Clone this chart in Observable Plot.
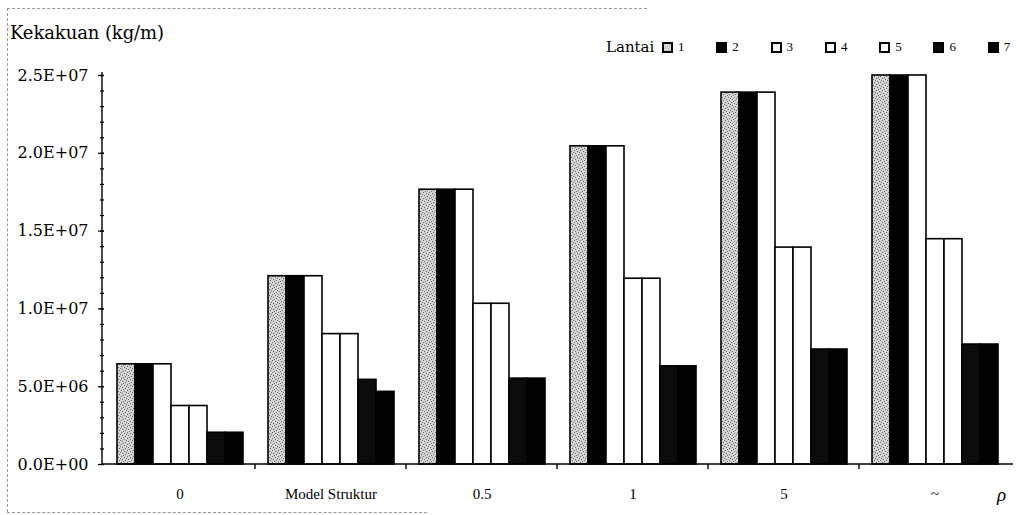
<!DOCTYPE html>
<html>
<head>
<meta charset="utf-8">
<script src="https://cdn.jsdelivr.net/npm/d3@7"></script>
<script src="https://cdn.jsdelivr.net/npm/@observablehq/plot@0.6"></script>
<style>
  html, body { margin: 0; padding: 0; background: #fff; }
  #wrap { position: relative; width: 1017px; height: 515px; overflow: hidden; font-family: "Liberation Serif", "DejaVu Serif", serif; color: #000; }
  #chart { position: absolute; left: 0; top: 0; }
  .ytitle { position: absolute; left: 10px; top: 22px; font-size: 18px; font-family: "DejaVu Serif", serif; letter-spacing: -0.1px; }
  .rho { position: absolute; left: 997px; top: 484px; font-size: 19px; font-style: italic; }
  #legend { position: absolute; left: 606px; top: 38px; display: flex; align-items: center; font-size: 13px; }
  #legend .ttl { font-size: 15px; font-family: "DejaVu Serif", serif; width: 56px; }
  #legend .item { display: flex; align-items: center; width: 54.3px; }
  #legend .sw { width: 7px; height: 7px; border: 2px solid #000; margin-right: 5px; }
  .bl, .bt, .bb { position: absolute; border-color: #999; border-style: dashed; border-width: 0; }
  .bl { left: 7px; top: 8px; height: 504px; border-left-width: 1px; }
  .bt { left: 7px; top: 8px; width: 640px; border-top-width: 1px; }
  .bb { left: 7px; top: 512px; width: 420px; border-top-width: 1px; }
</style>
</head>
<body>
<div id="wrap">
  <div id="chart"></div>
  <div class="bl"></div><div class="bt"></div><div class="bb"></div>
  <div class="ytitle">Kekakuan (kg/m)</div>
  <div id="legend"></div>
  <div class="rho">ρ</div>
</div>
<script>
// ---- data ----
const groups = ["0", "Model Struktur", "0.5", "1", "5", "~"];
const floors = ["1", "2", "3", "4", "5", "6", "7"];
const lantai1 = [6.44e6, 1.21e7, 1.766e7, 2.045e7, 2.39e7, 2.5e7];
const lantai2 = [6.44e6, 1.21e7, 1.766e7, 2.045e7, 2.39e7, 2.5e7];
const lantai3 = [6.44e6, 1.21e7, 1.766e7, 2.045e7, 2.39e7, 2.5e7];
const lantai4 = [3.76e6, 8.38e6, 1.033e7, 1.194e7, 1.394e7, 1.448e7];
const lantai5 = [3.76e6, 8.38e6, 1.033e7, 1.194e7, 1.394e7, 1.448e7];
const lantai6 = [2.04e6, 5.44e6, 5.52e6, 6.31e6, 7.39e6, 7.71e6];
const lantai7 = [2.04e6, 4.67e6, 5.52e6, 6.31e6, 7.39e6, 7.71e6];
const yTicks = [0, 5e6, 1e7, 1.5e7, 2e7, 2.5e7];
const yMinorTicks = d3.range(0, 2.5e7 + 1, 1e6);
const fills = ["url(#stip)", "#000", "#fff", "#fff", "#fff", "#0b0b0b", "#000"];

const series = [lantai1, lantai2, lantai3, lantai4, lantai5, lantai6, lantai7];
const data = [];
groups.forEach((g, i) => floors.forEach((f, j) => data.push({group: g, lantai: f, value: series[j][i]})));

const fmt = d => {
  const [m, e] = d.toExponential(1).split("e");
  return m + "E" + e[0] + e.slice(1).padStart(2, "0");
};

const W = 1017, H = 515, ML = 102, MR = 4, MT = 75, MB = 51;
const padInner = 0.145, padOuter = padInner / 2;
const step = (W - ML - MR) / groups.length;
const dx = -step * padOuter;
const font = '"Liberation Serif", "DejaVu Serif", serif';

const chart = Plot.plot({
  width: W, height: H,
  marginLeft: ML, marginRight: MR, marginTop: MT, marginBottom: MB,
  style: {fontFamily: font, fontSize: "15px", background: "transparent", color: "#000"},
  fx: {domain: groups, paddingInner: padInner, paddingOuter: padOuter, label: null},
  x: {domain: floors, padding: 0, axis: null},
  y: {domain: [0, 2.5e7], axis: null},
  color: {domain: floors, range: fills},
  marks: [
    Plot.barY(data, {fx: "group", x: "lantai", y: "value", fill: "lantai", stroke: "#000", strokeWidth: 1.6}),
    Plot.axisY({ticks: yMinorTicks, tickFormat: () => "", tickSize: 4, dx, label: null, strokeWidth: 1.2}),
    Plot.axisY({ticks: yTicks, tickFormat: fmt, tickSize: 6, tickPadding: 10, dx, label: null, fontSize: 16, fontFamily: '"DejaVu Serif", serif', strokeWidth: 1.2}),
    Plot.axisFx({anchor: "bottom", tickSize: 0, tickPadding: 24, label: null, fontSize: 15})
  ]
});
document.getElementById("chart").appendChild(chart);

// stipple pattern for Lantai 1
const svg = d3.select(chart);
const defs = svg.insert("defs", ":first-child");
const pat = defs.append("pattern").attr("id", "stip").attr("patternUnits", "userSpaceOnUse").attr("width", 6).attr("height", 6);
pat.append("rect").attr("width", 6).attr("height", 6).attr("fill", "#d2d2d2");
[[0,0],[3,1],[1,3],[4,4],[2,5],[5,2]].forEach(([a, b]) => pat.append("rect").attr("x", a).attr("y", b).attr("width", 1).attr("height", 1).attr("fill", "#6e6e6e"));

// axis lines and group boundary ticks from the plot's scales
const ys = chart.scale("y"), fxs = chart.scale("fx");
const y0 = ys.apply(0), yTop = ys.apply(2.5e7);
const gap = fxs.step - fxs.bandwidth;
const g = svg.append("g").attr("stroke", "#000").attr("stroke-width", 1.4);
g.append("line").attr("x1", ML).attr("x2", ML).attr("y1", y0).attr("y2", yTop - 3);
g.append("line").attr("x1", ML).attr("x2", W - MR).attr("y1", y0).attr("y2", y0);
groups.forEach((d, i) => {
  if (i === 0) return;
  const bx = fxs.apply(d) - gap / 2;
  g.append("line").attr("x1", bx).attr("x2", bx).attr("y1", y0).attr("y2", y0 + 5);
});

// legend
const leg = document.getElementById("legend");
leg.innerHTML = '<span class="ttl">Lantai</span>' + floors.map((f, i) =>
  `<span class="item"><span class="sw" style="background:${i === 0 ? '#d2d2d2' : fills[i]}"></span>${f}</span>`).join("");
</script>
</body>
</html>
